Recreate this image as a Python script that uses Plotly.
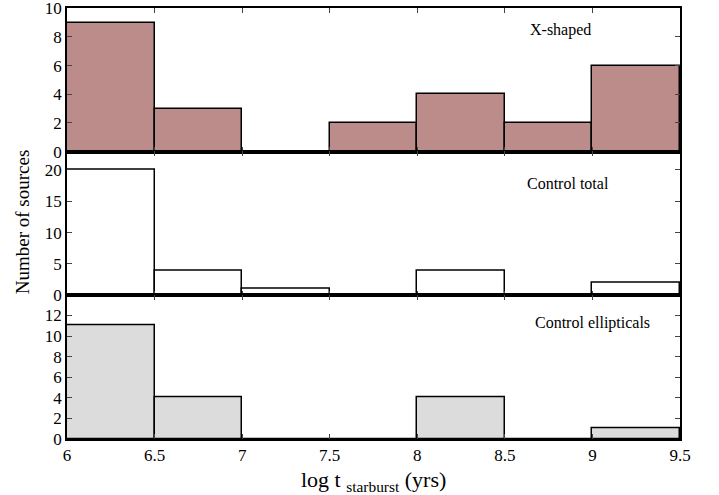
import plotly.graph_objects as go
from plotly.subplots import make_subplots

bin_left = [6.0, 6.5, 7.0, 7.5, 8.0, 8.5, 9.0]
xshaped = [9, 3, 0, 2, 4, 2, 6]
control_total = [20, 4, 1, 0, 4, 0, 2]
control_ell = [11, 4, 0, 0, 4, 0, 1]
x_ticks = [6, 6.5, 7, 7.5, 8, 8.5, 9, 9.5]
x_ticklabels = ["6", "6.5", "7", "7.5", "8", "8.5", "9", "9.5"]

panels = [
    (xshaped, "#bc8c8a", "X-shaped", [0, 10.02], 2, 8.82, 0.847),
    (control_total, "#ffffff", "Control total", [0, 22.9], 5, 8.86, 0.78),
    (control_ell, "#dcdcdc", "Control ellipticals", [0, 13.95], 2, 9.0, 0.806),
]

font = "Liberation Serif"
fig = make_subplots(rows=3, cols=1, shared_xaxes=True, vertical_spacing=0)

for i, (vals, col, name, yr, dt, ax, ay) in enumerate(panels, start=1):
    fig.add_trace(go.Bar(x=bin_left, y=vals, width=0.5, offset=0,
                         marker=dict(color=col, line=dict(color="black", width=1.5)),
                         showlegend=False, hoverinfo="skip"), row=i, col=1)
    fig.update_yaxes(range=yr, dtick=dt, tick0=0, ticks="inside", ticklen=5,
                     showline=True, linecolor="black", linewidth=1.5, mirror="ticks",
                     showgrid=False, zeroline=False, automargin=False,
                     ticklabeloverflow="allow",
                     tickfont=dict(family=font, size=17, color="black"), row=i, col=1)
    fig.update_xaxes(range=[6, 9.5], tickvals=x_ticks, ticktext=x_ticklabels,
                     ticks="inside", ticklen=5, showline=True, linecolor="black",
                     linewidth=1.5, mirror="ticks", showgrid=False, zeroline=False,
                     showticklabels=(i == 3), automargin=False,
                     ticklabeloverflow="allow",
                     tickfont=dict(family=font, size=17, color="black"), row=i, col=1)
    yref = "y domain" if i == 1 else f"y{i} domain"
    xref = "x" if i == 1 else f"x{i}"
    fig.add_annotation(x=ax, y=ay, xref=xref, yref=yref, text=name,
                       xanchor="center", yanchor="middle",
                       showarrow=False, font=dict(family=font, size=16, color="black"))

fig.add_annotation(x=0.5, y=-0.097, xref="paper", yref="paper",
                   text="log t <sub>starburst</sub> (yrs)", xanchor="center", yanchor="middle",
                   showarrow=False, font=dict(family=font, size=22, color="black"))
fig.add_annotation(x=-0.0734, y=0.503, xref="paper", yref="paper", text="Number of sources",
                   textangle=-90, showarrow=False, xanchor="center", yanchor="middle",
                   font=dict(family=font, size=19, color="black"))

fig.update_layout(width=719, height=495, plot_bgcolor="white", paper_bgcolor="white",
                  font=dict(family=font, color="black"),
                  margin=dict(l=67, r=39, t=8, b=56, autoexpand=False), bargap=0)
fig.write_html("out.html", config={"displayModeBar": False},
               post_script="document.body.style.margin='0';")
